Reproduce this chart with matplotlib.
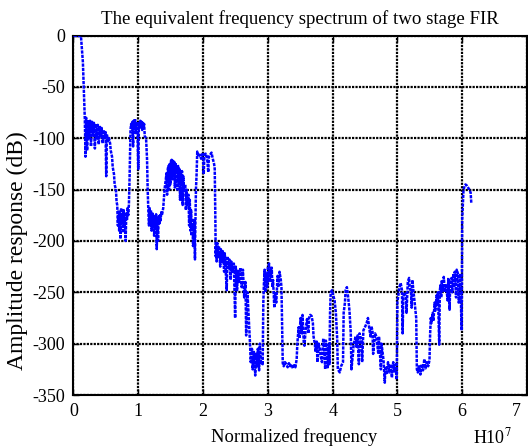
import matplotlib
matplotlib.use("Agg")
import matplotlib.pyplot as plt
import matplotlib.transforms as mtransforms

plt.rcParams['font.family'] = ['Liberation Serif', 'DejaVu Serif']
plt.rcParams['axes.unicode_minus'] = False
plt.rcParams['mathtext.fontset'] = 'stix'

# frequency in units of 1e7, amplitude in dB
freq = [0.0, 0.115, 0.13, 0.145, 0.16, 0.175,
        0.185, 0.195, 0.21, 0.225, 0.24, 0.255, 0.27, 0.285, 0.30, 0.315,
        0.33, 0.345, 0.36, 0.375, 0.39, 0.405, 0.42, 0.435, 0.45, 0.465,
        0.48, 0.495, 0.505, 0.515, 0.53, 0.545,
        0.565, 0.575, 0.595, 0.605, 0.625, 0.635, 0.655, 0.665,
        0.675, 0.685, 0.695, 0.705, 0.715, 0.725, 0.735, 0.745, 0.755, 0.765,
        0.775, 0.785, 0.795, 0.805, 0.815, 0.825, 0.835, 0.845, 0.855,
        0.865, 0.875, 0.88, 0.89, 0.90, 0.91, 0.92, 0.93, 0.94, 0.95, 0.96,
        0.97, 0.985, 1.00, 1.01, 1.02, 1.03, 1.04, 1.05, 1.06, 1.07, 1.08,
        1.09, 1.10, 1.12, 1.135, 1.145, 1.155,
        1.165, 1.175, 1.185, 1.195, 1.205, 1.215, 1.225, 1.235, 1.245, 1.255,
        1.265, 1.275, 1.285, 1.295, 1.305, 1.315, 1.325, 1.335, 1.345, 1.355,
        1.365, 1.385, 1.405, 1.425, 1.435, 1.445, 1.455, 1.465, 1.475, 1.485,
        1.495, 1.505, 1.515, 1.525, 1.535, 1.545, 1.555, 1.565, 1.575, 1.585,
        1.595, 1.605, 1.615, 1.625, 1.635, 1.645, 1.655, 1.665, 1.675, 1.685,
        1.695, 1.705, 1.725, 1.735, 1.745, 1.755, 1.775, 1.785, 1.795, 1.805,
        1.815, 1.825, 1.835, 1.845, 1.855, 1.865, 1.875,
        1.88, 1.89, 1.90, 1.91, 1.93, 1.95, 1.97, 1.98, 2.00, 2.01, 2.02,
        2.04, 2.06, 2.08, 2.09, 2.11, 2.13, 2.15, 2.17, 2.18, 2.19, 2.195,
        2.20, 2.21, 2.22, 2.235, 2.245, 2.265, 2.275, 2.295, 2.305, 2.325,
        2.335, 2.355, 2.365, 2.375, 2.395, 2.405, 2.425, 2.435, 2.455, 2.475,
        2.485, 2.495, 2.505, 2.525, 2.535, 2.555, 2.575, 2.595, 2.615, 2.635,
        2.655, 2.665, 2.685, 2.705, 2.725, 2.735, 2.755, 2.765, 2.785, 2.805,
        2.815, 2.835, 2.845, 2.865, 2.875, 2.895, 2.915,
        2.92, 2.93, 2.94, 2.95, 2.96, 2.98, 2.99, 3.00, 3.02, 3.03, 3.04,
        3.05, 3.06, 3.07, 3.08, 3.10, 3.11, 3.13, 3.15, 3.16, 3.18, 3.20,
        3.21, 3.22, 3.23,
        3.245, 3.265, 3.285, 3.305, 3.325, 3.345, 3.365, 3.385, 3.405, 3.425,
        3.445,
        3.455, 3.475, 3.485, 3.505, 3.525, 3.535, 3.555, 3.565, 3.585, 3.605,
        3.625, 3.635, 3.655, 3.675, 3.695, 3.705, 3.725, 3.735, 3.755, 3.765,
        3.785, 3.805, 3.815, 3.835, 3.855, 3.865, 3.885, 3.895, 3.915, 3.925,
        3.945,
        3.95, 3.96, 3.97, 3.99, 4.01, 4.03, 4.05, 4.07, 4.08, 4.11, 4.13,
        4.16, 4.17, 4.19, 4.20, 4.22, 4.24, 4.26, 4.28, 4.29,
        4.315, 4.325, 4.355, 4.365, 4.385, 4.405, 4.415, 4.445, 4.455, 4.475,
        4.505, 4.525, 4.545, 4.565, 4.585, 4.595, 4.615, 4.625, 4.655, 4.675,
        4.705, 4.715, 4.745, 4.755, 4.785,
        4.805, 4.815, 4.835, 4.855, 4.875, 4.895, 4.915, 4.935, 4.955, 4.975,
        4.985,
        4.99, 5.00, 5.01, 5.03, 5.05, 5.07, 5.08, 5.09, 5.11, 5.13, 5.14,
        5.16, 5.18, 5.19, 5.21, 5.22, 5.23, 5.25, 5.27, 5.29, 5.30,
        5.315, 5.335, 5.355, 5.375, 5.395, 5.415, 5.435, 5.455, 5.475, 5.495,
        5.505, 5.515, 5.525, 5.545, 5.555, 5.575, 5.585, 5.605, 5.615, 5.625,
        5.645, 5.655, 5.665, 5.675, 5.685, 5.705, 5.715, 5.735, 5.745, 5.755,
        5.775, 5.785, 5.805, 5.815, 5.835, 5.845, 5.865, 5.875, 5.885, 5.905,
        5.915, 5.935, 5.945, 5.955, 5.965, 5.975, 5.99,
        5.995, 6.00, 6.02, 6.04, 6.05, 6.07, 6.09, 6.11, 6.13, 6.14]

amp = [-0.3, -0.5, -14, -26, -53, -82,
       -118, -80, -112, -82, -100, -83, -108, -84, -97, -85,
       -110, -86, -100, -87, -106, -88, -98, -90, -105, -92,
       -100, -94, -137, -96, -104, -99,
       -105, -112, -118, -128, -135, -145, -150, -162,
       -165, -185, -170, -190, -172, -198, -168, -182, -175, -192,
       -170, -185, -178, -200, -172, -180, -168, -175, -165,
       -140, -105, -92, -86, -90, -84, -108, -83, -88, -81, -95,
       -84, -88, -130, -85, -90, -83, -88, -84, -92, -85, -89,
       -86, -98, -100, -120, -150, -170,
       -185, -168, -178, -170, -190, -172, -182, -175, -195, -176,
       -186, -174, -208, -178, -200, -176, -184, -175, -180, -172,
       -175, -168, -150, -140, -134, -155, -130, -127, -150, -125,
       -145, -122, -121, -140, -122, -135, -123, -148, -124, -130,
       -127, -150, -127, -140, -130, -160, -131, -145, -132, -165,
       -137, -150, -145, -170, -150, -165, -155, -185, -160, -190,
       -170, -195, -178, -205, -199, -180, -218,
       -190, -150, -135, -113, -118, -116, -120, -117, -114, -135, -118,
       -115, -118, -133, -118, -116, -114, -120, -125, -130, -180, -215,
       -205, -220, -202, -215, -205, -225, -208, -222, -210, -230,
       -212, -235, -248, -215, -228, -218, -238, -220, -230, -222,
       -250, -275, -225, -248, -228, -240, -226, -245, -228, -255,
       -240, -292, -250, -275, -300, -318, -305, -325, -308, -331,
       -310, -322, -305, -326, -300, -320, -318,
       -320, -260, -240, -228, -250, -232, -245, -225, -222, -240, -228,
       -235, -226, -245, -238, -265, -251, -260, -234, -245, -230, -238,
       -245, -280, -319,
       -322, -318, -320, -323, -319, -322, -320, -324, -321, -323,
       -315,
       -300, -284, -295, -275, -290, -272, -300, -302, -285, -276,
       -290, -275, -272, -273, -280, -293, -300, -308, -298, -318,
       -300, -305, -312, -318, -295, -300, -325, -297, -305, -323,
       -300,
       -320, -270, -250, -248, -253, -258, -270, -295, -325, -328, -322,
       -318, -270, -260, -248, -245, -255, -268, -290, -325,
       -309, -300, -293, -303, -292, -320, -290, -297, -318, -287,
       -283, -280, -275, -285, -293, -283, -287, -310, -290, -293,
       -310, -293, -325, -300, -316,
       -338, -322, -330, -318, -328, -320, -333, -318, -327, -320,
       -335,
       -330, -259, -255, -245, -241, -248, -290, -255, -250, -255, -270,
       -240, -236, -245, -250, -265, -238, -250, -262, -275, -325,
       -328, -322, -330, -320, -326, -315, -324, -318, -322, -316,
       -290, -275, -280, -270, -278, -260, -268, -253, -262, -250,
       -301, -248, -243, -255, -238, -248, -235, -250, -242, -245,
       -258, -236, -267, -240, -236, -250, -232, -245, -230, -255,
       -228, -232, -260, -258, -232, -245, -287,
       -250, -179, -150, -146, -145, -146, -148, -150, -153, -163]

xticks = [0, 1, 2, 3, 4, 5, 6, 7]
yticks = [-350, -300, -250, -200, -150, -100, -50, 0]

fig = plt.figure(figsize=(5.28, 4.46), dpi=100)
ax = fig.add_axes([0.1392, 0.1143, 0.8589, 0.8061])

ax.plot(freq, amp, color='#0000ff', lw=1.8, linestyle=(0, (1.3, 0.45)), zorder=3)

ax.set_xlim(0, 7)
ax.set_ylim(-350, 0)
ax.set_xticks(xticks)
ax.set_yticks(yticks)
ax.grid(True, color='black', linestyle=(0, (1, 0.55)), linewidth=1.6)
ax.set_axisbelow(True)
for s in ax.spines.values():
    s.set_linewidth(1.5)
ax.tick_params(direction='in', length=4, width=1, top=True, right=True,
               labelsize=13)
ax.tick_params(axis='y', pad=6)
ax.tick_params(axis='x', pad=6)

lbl = ax.get_xticklabels()
lbl[-1].set_ha('right')
off = mtransforms.ScaledTranslation(-6 / 100, 0, fig.dpi_scale_trans)
lbl[-1].set_transform(lbl[-1].get_transform() + off)

ax.set_title("The equivalent frequency spectrum of two stage FIR",
             fontsize=13.6, pad=8)
ax.set_xlabel("Normalized frequency", fontsize=13.3)
ax.xaxis.set_label_coords(0.487, -0.091)
ax.set_ylabel("Amplitude response (dB)", fontsize=17)
ax.yaxis.set_label_coords(-0.100, 0.403)
ax.text(0.881, -0.1335, "H10$^7$", transform=ax.transAxes, fontsize=13,
        ha='left', va='baseline')

plt.savefig("out.png", dpi=100)
